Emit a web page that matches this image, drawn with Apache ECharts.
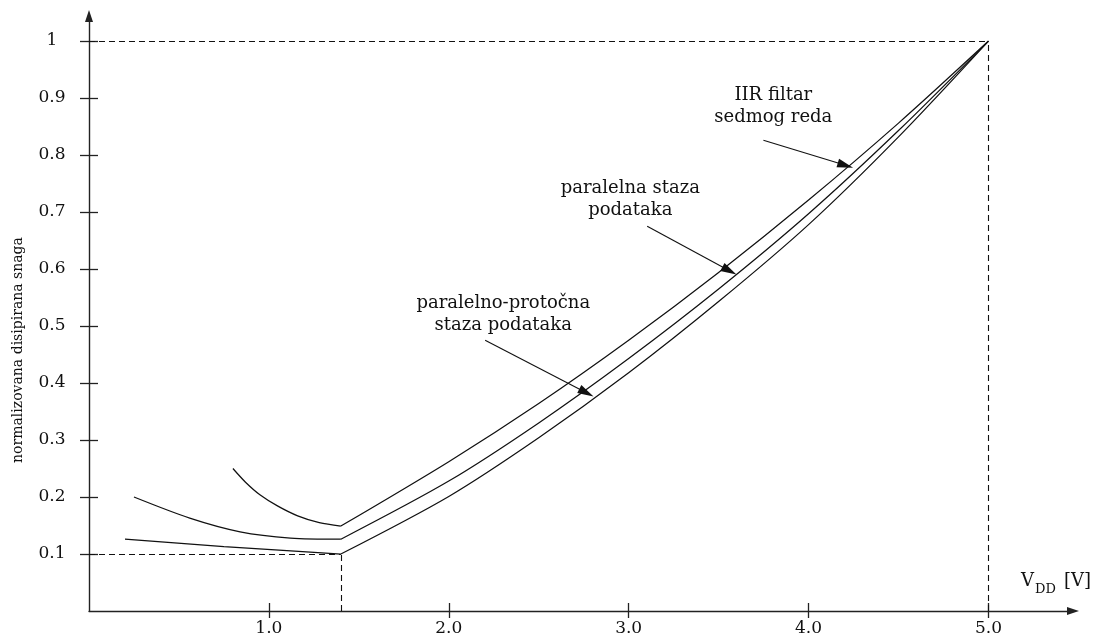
<!DOCTYPE html>
<html>
<head>
<meta charset="utf-8">
<script src="https://cdn.jsdelivr.net/npm/echarts@6/dist/echarts.min.js"></script>
<style>html,body{margin:0;padding:0;background:#fff}#c{width:1103px;height:637px}</style>
</head>
<body>
<div id="c"></div>
<script>
// ---- data ----
const xTickValues = [1, 2, 3, 4, 5];
const xTickLabels = ['1.0', '2.0', '3.0', '4.0', '5.0'];
const yTickValues = [0.1, 0.2, 0.3, 0.4, 0.5, 0.6, 0.7, 0.8, 0.9, 1.0];
const yTickLabels = ['0.1', '0.2', '0.3', '0.4', '0.5', '0.6', '0.7', '0.8', '0.9', '1'];
const kneeVdd = 1.4;           // VDD where curves change direction
const refPoint = [5.0, 1.0];   // normalisation point
const minPoint = [1.4, 0.1];   // minimum power point

// IIR filtar sedmog reda (upper curve)
const iirFilter = [[0.8,0.25],[0.87,0.226],[0.95,0.204],[1.05,0.184],[1.16,0.167],[1.28,0.155],[1.4,0.149],
  [2.0,0.262],[2.5,0.364],[3.0,0.475],[3.5,0.594],[4.0,0.721],[4.5,0.856],[5.0,1.0]];
// paralelna staza podataka (middle curve)
const parallelPath = [[0.25,0.2],[0.56,0.163],[0.84,0.139],[1.12,0.128],[1.4,0.126],
  [2.0,0.228],[2.5,0.330],[3.0,0.443],[3.5,0.565],[4.0,0.697],[4.5,0.843],[5.0,1.0]];
// paralelno-protočna staza podataka (lower curve)
const pipelinedPath = [[0.2,0.126],[0.75,0.113],[1.1,0.106],[1.4,0.1],
  [2.0,0.201],[2.5,0.304],[3.0,0.418],[3.5,0.543],[4.0,0.678],[4.5,0.832],[5.0,1.0]];

const curveNames = ['IIR filtar\nsedmog reda', 'paralelna staza\npodataka', 'paralelno-protočna\nstaza podataka'];

// ---- chart ----
const FONT = '"DejaVu Serif", "Liberation Serif", serif';
const INK = '#111';
const chart = echarts.init(document.getElementById('c'), null, {renderer: 'canvas'});

function tickLabel(values, labels) {
  return v => {
    const i = values.findIndex(t => Math.abs(t - v) < 1e-6);
    return i >= 0 ? labels[i] : '';
  };
}

const X_MAX = 5.47, Y_MAX = 1.044;

function curveSeries(data, name) {
  const left = data.filter(p => p[0] <= kneeVdd);
  const right = data.filter(p => p[0] >= kneeVdd);
  const base = {type: 'line', smooth: 0.3, symbol: 'none', silent: true, animation: false,
    lineStyle: {color: INK, width: 1.25}, z: 5};
  return [Object.assign({name: name + '-a', data: left}, base),
          Object.assign({name: name + '-b', data: right}, base)];
}

const series = [].concat(
  curveSeries(iirFilter, 'iir'),
  curveSeries(parallelPath, 'par'),
  curveSeries(pipelinedPath, 'pipe')
);

// dashed guides
series.push({
  type: 'line', data: [], silent: true, animation: false,
  markLine: {
    silent: true, animation: false, symbol: ['none', 'none'],
    label: {show: false},
    lineStyle: {color: '#111', width: 1.1, type: [6, 4]},
    data: [
      [{coord: [0, refPoint[1]]}, {coord: refPoint}],
      [{coord: [refPoint[0], 0]}, {coord: refPoint}],
      [{coord: [0, minPoint[1]]}, {coord: minPoint}],
      [{coord: [minPoint[0], 0]}, {coord: minPoint}]
    ]
  }
});
// annotation arrows and texts
series.push({
  type: 'line', data: [], silent: true, animation: false,
  markLine: {
    silent: true, animation: false, symbol: ['none', 'triangle'], symbolSize: [9, 16],
    label: {show: false},
    lineStyle: {color: INK, width: 1.1, type: 'solid'},
    data: [
      [{coord: [3.749, 0.826]}, {coord: [4.205, 0.782]}],
      [{coord: [3.103, 0.675]}, {coord: [3.56, 0.597]}],
      [{coord: [2.202, 0.475]}, {coord: [2.765, 0.383]}]
    ]
  },
  markPoint: {
    silent: true, animation: false, symbol: 'circle', symbolSize: 0,
    label: {show: true, position: 'inside', color: INK, fontFamily: FONT, fontSize: 18,
      lineHeight: 22, align: 'center', verticalAlign: 'middle'},
    data: [
      {coord: [3.804, 0.886], value: 0, label: {formatter: curveNames[0]}},
      {coord: [3.009, 0.723], value: 0, label: {formatter: curveNames[1]}},
      {coord: [2.303, 0.521], value: 0, label: {formatter: curveNames[2]}}
    ]
  }
});

const tickStyle = {color: '#222', width: 1.3};
const option = {
  backgroundColor: '#fff',
  animation: false,
  grid: {left: 89, right: 30, top: 16, bottom: 26, containLabel: false},
  xAxis: [
    {
      type: 'value', min: 0, max: X_MAX, position: 'bottom',
      axisLine: {show: true, onZero: false, lineStyle: {color: '#222', width: 1.4},
        symbol: ['none', 'triangle'], symbolSize: [8, 12]},
      axisTick: {show: true, inside: false, length: 7, customValues: xTickValues, lineStyle: tickStyle},
      axisLabel: {show: true, customValues: xTickValues, formatter: tickLabel(xTickValues, xTickLabels),
        margin: 9, color: INK, fontFamily: FONT, fontSize: 17},
      splitLine: {show: false}
    },
    {
      type: 'value', min: 0, max: X_MAX, position: 'bottom',
      axisLine: {show: false, onZero: false},
      axisTick: {show: true, inside: true, length: 8, customValues: xTickValues, lineStyle: tickStyle},
      axisLabel: {show: false},
      splitLine: {show: false}
    }
  ],
  yAxis: [
    {
      type: 'value', min: 0, max: Y_MAX, position: 'left',
      axisLine: {show: true, onZero: false, lineStyle: {color: '#222', width: 1.4},
        symbol: ['none', 'triangle'], symbolSize: [8, 12]},
      axisTick: {show: true, inside: false, length: 9, customValues: yTickValues, lineStyle: tickStyle},
      axisLabel: {show: true, customValues: yTickValues, formatter: tickLabel(yTickValues, yTickLabels),
        margin: 37, align: 'center', color: INK, fontFamily: FONT, fontSize: 17},
      splitLine: {show: false}
    },
    {
      type: 'value', min: 0, max: Y_MAX, position: 'left',
      axisLine: {show: false, onZero: false},
      axisTick: {show: true, inside: true, length: 9, customValues: yTickValues, lineStyle: tickStyle},
      axisLabel: {show: false},
      splitLine: {show: false}
    }
  ],
  graphic: [
    {type: 'text', x: 18, y: 350, rotation: Math.PI / 2, silent: true,
      style: {text: 'normalizovana disipirana snaga', fill: INK, font: '14px ' + FONT,
        align: 'center', verticalAlign: 'middle'}},
    {type: 'text', x: 1021, y: 572, silent: true,
      style: {text: 'V', fill: INK, font: '18px ' + FONT, align: 'left', verticalAlign: 'top'}},
    {type: 'text', x: 1035, y: 583, silent: true,
      style: {text: 'DD', fill: INK, font: '13px ' + FONT, align: 'left', verticalAlign: 'top'}},
    {type: 'text', x: 1064, y: 572, silent: true,
      style: {text: '[V]', fill: INK, font: '18px ' + FONT, align: 'left', verticalAlign: 'top'}}
  ],
  series: series
};

chart.setOption(option);
</script>
</body>
</html>
